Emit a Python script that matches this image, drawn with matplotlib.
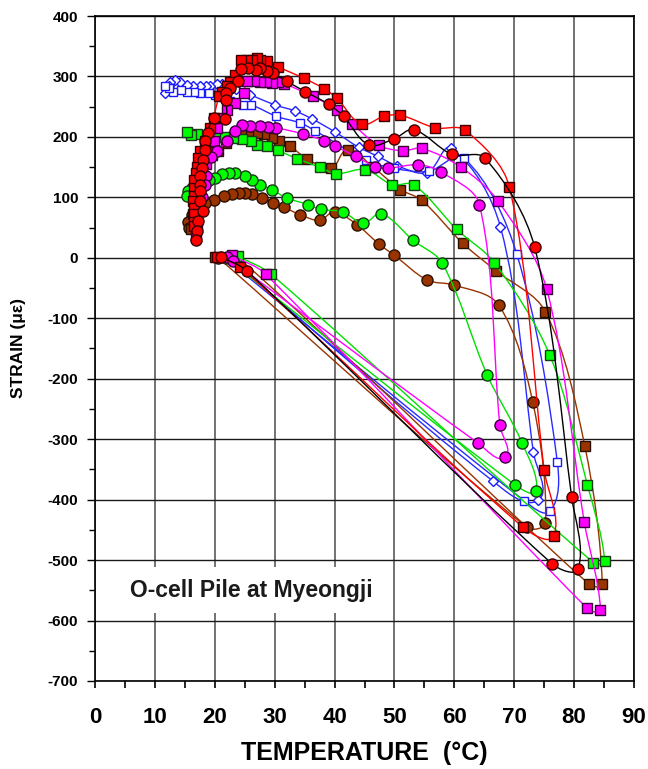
import numpy as np
import matplotlib
matplotlib.use("Agg")
import matplotlib.pyplot as plt
from matplotlib.path import Path
from matplotlib.patches import PathPatch, Rectangle
from matplotlib.ticker import MultipleLocator

plt.rcParams['font.family'] = ['Liberation Sans', 'DejaVu Sans']
plt.rcParams['axes.unicode_minus'] = False

# Strain gauge records: (temperature in degC, strain in micro-strain), in time order
red_squares = [(20.3, 1), (24.2, -15), (71.4, -445), (76.6, -460), (75.0, -351), (69.2, 117),
               (61.8, 211), (56.8, 215), (51.0, 236), (48.2, 234), (44.5, 221), (40.4, 264),
               (38.2, 280), (34.9, 297), (30.5, 316), (28.7, 325), (27.6, 328), (27.0, 330),
               (26.2, 327), (25.4, 327), (24.3, 327), (23.4, 303), (22.5, 290), (22.0, 285),
               (21.2, 275), (20.7, 267), (19.8, 232), (19.2, 215), (18.4, 193), (17.5, 177),
               (17.2, 165), (17.0, 150), (16.8, 141), (16.6, 128), (16.5, 116), (16.5, 103),
               (16.4, 94), (16.5, 83), (16.5, 72), (16.5, 60), (16.5, 53)]

red_circles = [(21.1, 1), (25.3, -21), (76.3, -506), (80.7, -514), (79.6, -396), (73.4, 18),
               (65.1, 165), (59.6, 171), (53.2, 212), (50.0, 197), (45.7, 187), (41.5, 234),
               (39.0, 254), (35.1, 275), (32.0, 292), (29.8, 305), (28.7, 309), (27.6, 314),
               (26.8, 311), (25.6, 314), (24.4, 313), (23.9, 292), (22.6, 281), (21.8, 272),
               (21.9, 261), (21.7, 230), (19.8, 232), (18.8, 206), (18.4, 193), (18.4, 179),
               (18.1, 162), (17.8, 149), (17.5, 135), (17.5, 121), (17.5, 110), (17.5, 94),
               (18.1, 77), (17.2, 61), (17.0, 45), (16.9, 29)]

magenta_squares = [(22.9, 4), (28.5, -27), (82.2, -580), (84.4, -583), (81.7, -437), (75.4, -51),
                   (67.3, 94), (61.1, 150), (54.6, 181), (51.4, 177), (47.4, 186), (42.9, 222),
                   (40.4, 245), (36.4, 267), (31.6, 288), (30.5, 290), (29.6, 289), (28.5, 291),
                   (27.6, 291), (26.5, 292), (25.4, 293), (24.8, 272), (23.4, 256), (22.1, 245),
                   (21.0, 232), (20.3, 214), (19.8, 193), (19.3, 175), (18.5, 155), (18.0, 135),
                   (17.6, 115), (17.3, 95), (17.1, 75), (17.0, 55), (16.9, 34)]

magenta_circles = [(22.0, 2), (23.0, -6), (63.9, -306), (68.5, -330), (67.6, -277), (64.2, 88),
                   (57.8, 142), (53.9, 154), (48.9, 148), (46.8, 151), (43.5, 168), (40.1, 185),
                   (38.2, 194), (34.7, 205), (30.3, 215), (28.9, 216), (27.5, 218), (25.9, 218),
                   (24.5, 220), (23.3, 210), (22.0, 193), (20.4, 177), (19.3, 166), (18.6, 136),
                   (18.3, 120), (17.8, 100), (17.2, 82), (16.9, 67), (16.9, 53)]

green_squares = [(23.8, 3), (29.4, -27), (83.2, -504), (85.1, -501), (82.2, -375), (75.9, -160),
                 (66.7, -8), (60.4, 47), (53.2, 121), (49.6, 121), (45.1, 146), (40.3, 139),
                 (37.5, 150), (33.7, 164), (30.5, 178), (28.7, 185), (27.1, 186), (26.0, 193),
                 (24.5, 196), (23.0, 198), (21.5, 200), (20.0, 201), (18.5, 202), (17.0, 204),
                 (16.1, 203), (15.3, 208)]

green_circles = [(21.8, 0), (70.2, -376), (73.7, -386), (71.3, -306), (65.5, -194), (58.0, -9),
                 (53.1, 29), (47.8, 73), (44.8, 57), (41.4, 76), (37.7, 80), (35.6, 88),
                 (32.0, 99), (29.5, 113), (27.6, 121), (26.2, 129), (25.0, 135), (23.4, 140),
                 (22.3, 140), (21.2, 138), (20.1, 132), (19.0, 128), (17.5, 122), (16.2, 116),
                 (15.6, 110), (15.3, 102)]

brown_squares = [(20.0, 2), (23.7, 2), (82.5, -540), (84.7, -540), (81.8, -312), (75.2, -89),
                 (66.9, -21), (61.4, 24), (54.6, 95), (51.0, 113), (46.4, 150), (42.2, 179),
                 (39.4, 148), (35.4, 164), (32.5, 185), (30.7, 194), (29.5, 198), (28.2, 204),
                 (27.0, 207), (25.6, 209), (24.3, 208), (23.0, 200), (21.8, 190), (20.6, 176),
                 (19.5, 170), (18.5, 167), (17.5, 165), (17.2, 140), (16.8, 110), (16.4, 72),
                 (16.1, 47)]

brown_circles = [(20.6, 0), (72.1, -446), (75.2, -438), (73.1, -239), (67.4, -78), (60.0, -45),
                 (55.5, -37), (50.0, 4), (47.4, 23), (43.7, 55), (40.0, 76), (37.5, 62),
                 (34.3, 71), (31.5, 84), (29.8, 91), (27.9, 99), (26.2, 105), (25.1, 107),
                 (24.0, 107), (22.8, 105), (21.5, 102), (19.8, 96), (18.4, 90), (17.2, 80),
                 (16.2, 70), (15.6, 60), (15.7, 50)]

blue_squares = [(21.5, 1), (71.7, -402), (76.0, -419), (77.2, -338), (70.4, 7), (61.6, 165),
                (55.7, 143), (49.9, 148), (45.3, 161), (36.8, 210), (34.3, 223), (30.3, 234),
                (26.1, 253), (24.7, 253), (22.5, 260), (20.1, 270), (19.0, 272), (17.6, 272),
                (16.5, 275), (15.4, 275), (14.3, 278), (13.1, 275), (12.3, 281), (11.7, 284)]

blue_diamonds = [(22.2, 1), (66.4, -369), (74.0, -401), (73.2, -322), (67.7, 51), (59.5, 181),
                 (55.5, 141), (50.5, 152), (47.2, 168), (44.0, 183), (40.1, 208), (36.2, 230),
                 (33.4, 243), (30.0, 253), (25.9, 270), (23.5, 280), (21.2, 287), (20.3, 287),
                 (19.2, 285), (18.6, 285), (17.5, 285), (16.4, 285), (15.3, 286), (14.2, 291),
                 (13.3, 294), (12.6, 290), (12.3, 284), (11.7, 273)]

x_ticks = list(range(0, 91, 10))
y_ticks = list(range(-700, 401, 100))

# series drawn back to front: (points, marker, face, edge, line colour, marker size)
series = [
    (blue_diamonds, 'D', 'white', '#1a1aff', '#2a2aff', 5.2),
    (blue_squares, 's', 'white', '#1a1aff', '#2a2aff', 6.3),
    (brown_circles, 'o', '#993300', '#2a1000', '#993300', 8.0),
    (brown_squares, 's', '#993300', '#2a1000', '#993300', 7.6),
    (green_circles, 'o', '#00ff00', '#1a3a1a', '#00e000', 8.0),
    (green_squares, 's', '#00ff00', '#1a3a1a', '#00e000', 7.6),
    (magenta_squares, 's', '#ff00ff', '#3a003a', '#ff00ff', 7.6),
    (magenta_circles, 'o', '#ff00ff', '#3a003a', '#ff00ff', 8.0),
    (red_squares, 's', '#ff0000', '#3a0000', '#ff0000', 7.6),
    (red_circles, 'o', '#ff0000', '#3a0000', '#000000', 8.0),
]

fig = plt.figure(figsize=(6.48, 7.69), dpi=100)
ax = fig.add_axes([95 / 648, 1 - 681 / 769, 539 / 648, 665 / 769])
ax.set_xlim(0, 90)
ax.set_ylim(-700, 400)
ax.set_xticks(x_ticks)
ax.set_yticks(y_ticks)
ax.xaxis.set_minor_locator(MultipleLocator(5))
ax.yaxis.set_minor_locator(MultipleLocator(50))
ax.set_axisbelow(True)
ax.xaxis.grid(True, which='major', color='#5a5a5a', lw=1.2)
ax.yaxis.grid(True, which='major', color='#1a1a1a', lw=1.0)
for sp in ax.spines.values():
    sp.set_color('black')
    sp.set_linewidth(1.2)
ax.tick_params(axis='x', which='major', direction='out', length=5, width=1.2,
               labelsize=16, pad=14)
ax.tick_params(axis='x', which='minor', direction='out', length=5, width=1.2)
ax.tick_params(axis='y', which='major', direction='out', length=6, width=1.0,
               labelsize=11, pad=6)
ax.tick_params(axis='y', which='minor', direction='out', length=4, width=1.0)
for lab in ax.get_xticklabels() + ax.get_yticklabels():
    lab.set_fontweight('bold')

ax.set_xlabel('TEMPERATURE  (°C)', fontsize=18, fontweight='bold', va='center')
ax.xaxis.set_label_coords(0.5, -(753 - 681) / 665)
ax.set_ylabel('STRAIN (με)', fontsize=12.5, fontweight='bold', va='center')
ax.yaxis.set_label_coords(-(95 - 18) / 539, 0.5)

fig.canvas.draw()


def smooth_path(pts, k=0.32):
    """Smoothed curve through the points (cubic Bezier pieces built in display space)."""
    p = np.asarray(pts, float)
    q = ax.transData.transform(p)
    inv = ax.transData.inverted()
    n = len(q)
    verts = [p[0]]
    codes = [Path.MOVETO]
    for i in range(n - 1):
        p0 = q[i - 1] if i > 0 else q[i]
        p1, p2 = q[i], q[i + 1]
        p3 = q[i + 2] if i + 2 < n else q[i + 1]
        d = np.linalg.norm(p2 - p1)
        t1 = p2 - p0
        t1 = t1 / (np.linalg.norm(t1) or 1.0)
        t2 = p3 - p1
        t2 = t2 / (np.linalg.norm(t2) or 1.0)
        c1 = inv.transform(p1 + t1 * d * k)
        c2 = inv.transform(p2 - t2 * d * k)
        verts += [c1, c2, p[i + 1]]
        codes += [Path.CURVE4] * 3
    return Path(verts, codes)


for i, (pts, mk, fc, ec, lc, ms) in enumerate(series):
    z = 3 + i * 0.2
    ax.add_patch(PathPatch(smooth_path(pts), fill=False, edgecolor=lc, lw=1.0, zorder=z))
    xs = [t for t, s in pts]
    ys = [s for t, s in pts]
    ax.plot(xs, ys, ls='none', marker=mk, ms=ms, mfc=fc, mec=ec, mew=1.0, zorder=z + 0.1)

# caption panel
ax.add_patch(Rectangle((0.4, -588), 48.9, 76, facecolor='white', edgecolor='none', zorder=1.5))
ax.text(26.1, -551, 'O-cell Pile at Myeongji', ha='center', va='center',
        fontsize=16.5, fontweight='bold', color='#1a1a1a', zorder=2)

fig.savefig('out.png', dpi=100)
